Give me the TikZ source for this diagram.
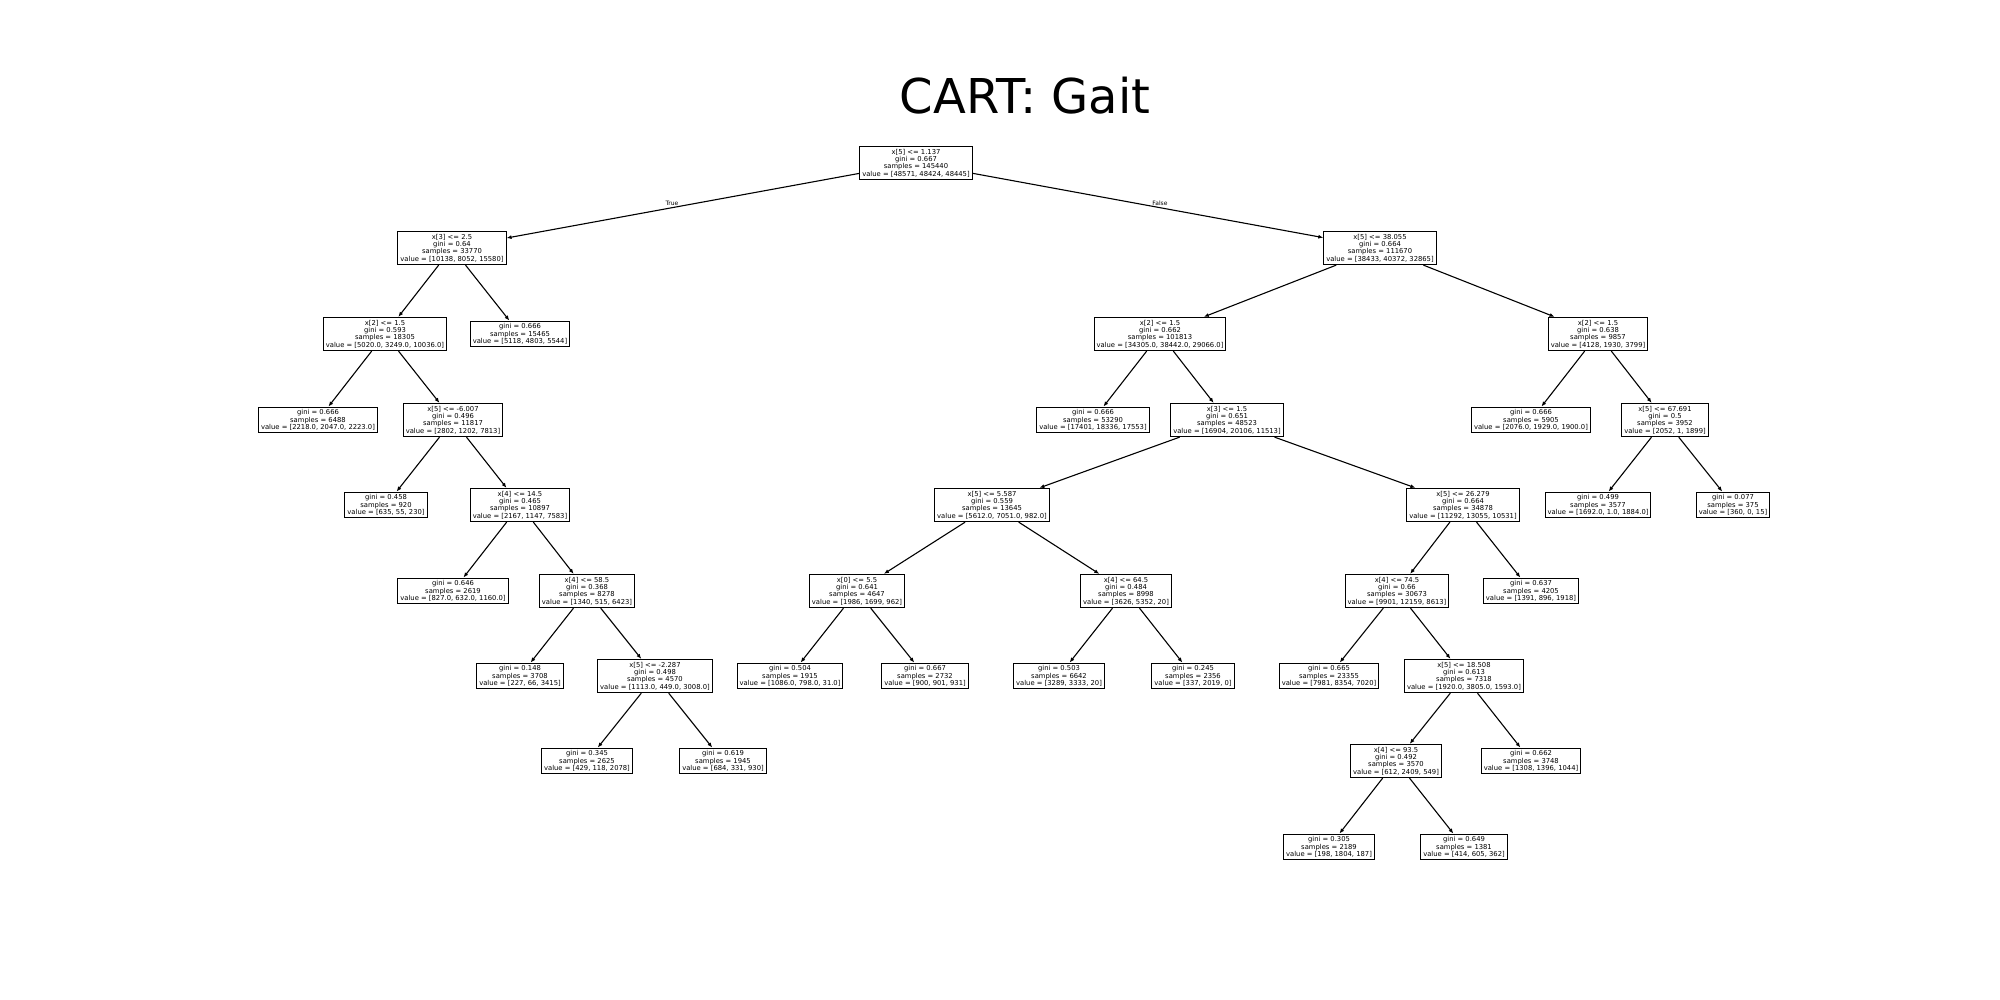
\documentclass[tikz,border=0pt]{standalone}
\usepackage{fontspec}
\setmainfont{DejaVu Sans}
\usetikzlibrary{arrows.meta}

\tikzset{
  tnode/.style={draw, line width=1pt, fill=white, align=center, inner sep=2.5pt,
    font=\fontsize{6.8}{7.4}\selectfont},
  branch/.style={-{Latex[length=5pt,width=4pt]}, line width=1.1pt},
  lbl/.style={font=\fontsize{6}{7}\selectfont, inner sep=0pt}
}

\begin{document}
\begin{tikzpicture}[x=1pt,y=-1pt]
\useasboundingbox (0,0) rectangle (2000,1000);

\node[font=\fontsize{48}{56}\selectfont, anchor=base] (title) at (1025,114) {CART: Gait};

% level 0 and 1
\node[tnode] (N) at (916,163) {x[5] <= 1.137\\gini = 0.667\\samples = 145440\\value = [48571, 48424, 48445]};
\node[tnode] (NL) at (452,248) {x[3] <= 2.5\\gini = 0.64\\samples = 33770\\value = [10138, 8052, 15580]};
\node[tnode] (NR) at (1380,248) {x[5] <= 38.055\\gini = 0.664\\samples = 111670\\value = [38433, 40372, 32865]};

% level 2
\node[tnode] (NLL) at (385,334) {x[2] <= 1.5\\gini = 0.593\\samples = 18305\\value = [5020.0, 3249.0, 10036.0]};
\node[tnode] (NLR) at (520,334) {gini = 0.666\\samples = 15465\\value = [5118, 4803, 5544]};
\node[tnode] (NRL) at (1160,334) {x[2] <= 1.5\\gini = 0.662\\samples = 101813\\value = [34305.0, 38442.0, 29066.0]};
\node[tnode] (NRR) at (1598,334) {x[2] <= 1.5\\gini = 0.638\\samples = 9857\\value = [4128, 1930, 3799]};

% level 3
\node[tnode] (NLLL) at (318,420) {gini = 0.666\\samples = 6488\\value = [2218.0, 2047.0, 2223.0]};
\node[tnode] (NLLR) at (453,420) {x[5] <= -6.007\\gini = 0.496\\samples = 11817\\value = [2802, 1202, 7813]};
\node[tnode] (NRLL) at (1093,420) {gini = 0.666\\samples = 53290\\value = [17401, 18336, 17553]};
\node[tnode] (NRLR) at (1227,420) {x[3] <= 1.5\\gini = 0.651\\samples = 48523\\value = [16904, 20106, 11513]};
\node[tnode] (NRRL) at (1531,420) {gini = 0.666\\samples = 5905\\value = [2076.0, 1929.0, 1900.0]};
\node[tnode] (NRRR) at (1665,420) {x[5] <= 67.691\\gini = 0.5\\samples = 3952\\value = [2052, 1, 1899]};

% level 4
\node[tnode] (NLLRL) at (386,505) {gini = 0.458\\samples = 920\\value = [635, 55, 230]};
\node[tnode] (NLLRR) at (520,505) {x[4] <= 14.5\\gini = 0.465\\samples = 10897\\value = [2167, 1147, 7583]};
\node[tnode] (NRLRL) at (992,505) {x[5] <= 5.587\\gini = 0.559\\samples = 13645\\value = [5612.0, 7051.0, 982.0]};
\node[tnode] (NRLRR) at (1463,505) {x[5] <= 26.279\\gini = 0.664\\samples = 34878\\value = [11292, 13055, 10531]};
\node[tnode] (NRRRL) at (1598,505) {gini = 0.499\\samples = 3577\\value = [1692.0, 1.0, 1884.0]};
\node[tnode] (NRRRR) at (1733,505) {gini = 0.077\\samples = 375\\value = [360, 0, 15]};

% level 5
\node[tnode] (NLLRRL) at (453,591) {gini = 0.646\\samples = 2619\\value = [827.0, 632.0, 1160.0]};
\node[tnode] (NLLRRR) at (587,591) {x[4] <= 58.5\\gini = 0.368\\samples = 8278\\value = [1340, 515, 6423]};
\node[tnode] (NRLRLL) at (857,591) {x[0] <= 5.5\\gini = 0.641\\samples = 4647\\value = [1986, 1699, 962]};
\node[tnode] (NRLRLR) at (1126,591) {x[4] <= 64.5\\gini = 0.484\\samples = 8998\\value = [3626, 5352, 20]};
\node[tnode] (NRLRRL) at (1397,591) {x[4] <= 74.5\\gini = 0.66\\samples = 30673\\value = [9901, 12159, 8613]};
\node[tnode] (NRLRRR) at (1531,591) {gini = 0.637\\samples = 4205\\value = [1391, 896, 1918]};

% level 6
\node[tnode] (NLLRRRL) at (520,676) {gini = 0.148\\samples = 3708\\value = [227, 66, 3415]};
\node[tnode] (NLLRRRR) at (655,676) {x[5] <= -2.287\\gini = 0.498\\samples = 4570\\value = [1113.0, 449.0, 3008.0]};
\node[tnode] (NRLRLLL) at (790,676) {gini = 0.504\\samples = 1915\\value = [1086.0, 798.0, 31.0]};
\node[tnode] (NRLRLLR) at (925,676) {gini = 0.667\\samples = 2732\\value = [900, 901, 931]};
\node[tnode] (NRLRLRL) at (1059,676) {gini = 0.503\\samples = 6642\\value = [3289, 3333, 20]};
\node[tnode] (NRLRLRR) at (1193,676) {gini = 0.245\\samples = 2356\\value = [337, 2019, 0]};
\node[tnode] (NRLRRLL) at (1329,676) {gini = 0.665\\samples = 23355\\value = [7981, 8354, 7020]};
\node[tnode] (NRLRRLR) at (1464,676) {x[5] <= 18.508\\gini = 0.613\\samples = 7318\\value = [1920.0, 3805.0, 1593.0]};

% level 7 and 8
\node[tnode] (NLLRRRRL) at (587,761) {gini = 0.345\\samples = 2625\\value = [429, 118, 2078]};
\node[tnode] (NLLRRRRR) at (723,761) {gini = 0.619\\samples = 1945\\value = [684, 331, 930]};
\node[tnode] (NRLRRLRL) at (1396,761) {x[4] <= 93.5\\gini = 0.492\\samples = 3570\\value = [612, 2409, 549]};
\node[tnode] (NRLRRLRR) at (1531,761) {gini = 0.662\\samples = 3748\\value = [1308, 1396, 1044]};
\node[tnode] (NRLRRLRLL) at (1329,847) {gini = 0.305\\samples = 2189\\value = [198, 1804, 187]};
\node[tnode] (NRLRRLRLR) at (1464,847) {gini = 0.649\\samples = 1381\\value = [414, 605, 362]};

\node[lbl] (T) at (672,203) {True};
\node[lbl] (F) at (1160,203) {False};

\draw[branch] (N) -- (NL);
\draw[branch] (N) -- (NR);
\draw[branch] (NL) -- (NLL);
\draw[branch] (NL) -- (NLR);
\draw[branch] (NLL) -- (NLLL);
\draw[branch] (NLL) -- (NLLR);
\draw[branch] (NLLR) -- (NLLRL);
\draw[branch] (NLLR) -- (NLLRR);
\draw[branch] (NLLRR) -- (NLLRRL);
\draw[branch] (NLLRR) -- (NLLRRR);
\draw[branch] (NLLRRR) -- (NLLRRRL);
\draw[branch] (NLLRRR) -- (NLLRRRR);
\draw[branch] (NLLRRRR) -- (NLLRRRRL);
\draw[branch] (NLLRRRR) -- (NLLRRRRR);

\draw[branch] (NR) -- (NRL);
\draw[branch] (NR) -- (NRR);
\draw[branch] (NRL) -- (NRLL);
\draw[branch] (NRL) -- (NRLR);
\draw[branch] (NRLR) -- (NRLRL);
\draw[branch] (NRLR) -- (NRLRR);
\draw[branch] (NRLRL) -- (NRLRLL);
\draw[branch] (NRLRL) -- (NRLRLR);
\draw[branch] (NRLRLL) -- (NRLRLLL);
\draw[branch] (NRLRLL) -- (NRLRLLR);
\draw[branch] (NRLRLR) -- (NRLRLRL);
\draw[branch] (NRLRLR) -- (NRLRLRR);
\draw[branch] (NRLRR) -- (NRLRRL);
\draw[branch] (NRLRR) -- (NRLRRR);
\draw[branch] (NRLRRL) -- (NRLRRLL);
\draw[branch] (NRLRRL) -- (NRLRRLR);
\draw[branch] (NRLRRLR) -- (NRLRRLRL);
\draw[branch] (NRLRRLR) -- (NRLRRLRR);
\draw[branch] (NRLRRLRL) -- (NRLRRLRLL);
\draw[branch] (NRLRRLRL) -- (NRLRRLRLR);
\draw[branch] (NRR) -- (NRRL);
\draw[branch] (NRR) -- (NRRR);
\draw[branch] (NRRR) -- (NRRRL);
\draw[branch] (NRRR) -- (NRRRR);

\end{tikzpicture}
\end{document}
